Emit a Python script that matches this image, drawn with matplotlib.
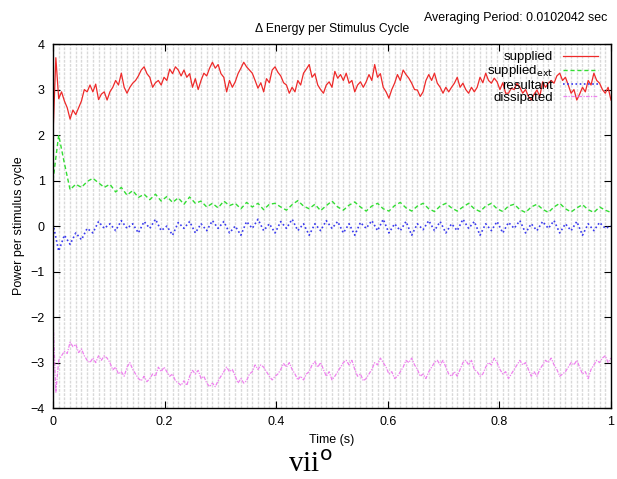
import numpy as np
import matplotlib
matplotlib.use("Agg")
import matplotlib.pyplot as plt

# Averaging period of the stimulus cycle (s)
period = 0.0102042
n_cycles = 99          # samples of supplied_ext / resultant (one per cycle)
n_half = 197           # samples of supplied / dissipated (two per cycle)

supplied = [
    2.0, 3.7, 2.8, 2.95, 2.75, 2.6, 2.35, 2.55, 2.45, 2.6,
    2.75, 3.0, 2.95, 3.1, 2.95, 3.12, 2.78, 2.9, 2.95, 2.77,
    2.95, 3.05, 3.2, 3.1, 3.36, 3.05, 2.92, 3.05, 3.14, 3.2,
    3.3, 3.43, 3.5, 3.35, 3.27, 3.05, 3.15, 3.2, 3.1, 3.27,
    3.2, 3.45, 3.35, 3.5, 3.43, 3.3, 3.43, 3.27, 3.35, 3.05,
    3.24, 3.0, 3.2, 3.36, 3.3, 3.47, 3.6, 3.47, 3.55, 3.35,
    3.27, 2.95, 3.2, 3.05, 3.17, 3.35, 3.47, 3.6, 3.5, 3.43,
    3.36, 3.2, 3.03, 3.15, 2.95, 3.24, 3.15, 3.43, 3.5, 3.38,
    3.3, 3.15, 3.1, 2.92, 3.05, 2.95, 3.2, 3.1, 3.36, 3.45,
    3.55, 3.27, 3.35, 3.1, 3.0, 2.92, 3.1, 3.17, 3.05, 3.4,
    3.25, 3.33, 3.2, 3.36, 3.14, 3.2, 2.95, 3.1, 3.17, 3.05,
    3.17, 3.33, 3.2, 3.55, 3.27, 3.35, 3.05, 2.95, 2.81, 3.0,
    3.14, 3.33, 3.2, 3.43, 3.33, 3.25, 3.14, 3.0, 2.99, 2.85,
    2.95, 3.2, 3.33, 3.2, 3.36, 3.14, 3.05, 2.92, 3.05, 2.95,
    3.05, 3.14, 3.27, 3.05, 3.14, 3.0, 2.92, 3.05, 2.95, 3.05,
    3.27, 3.15, 3.36, 3.2, 3.14, 3.25, 3.17, 3.0, 3.15, 2.92,
    2.92, 3.03, 3.0, 3.14, 3.05, 2.92, 3.0, 2.85, 2.77, 2.9,
    2.99, 2.85, 3.17, 3.05, 3.14, 3.2, 3.14, 3.3, 3.36, 3.2,
    3.27, 3.1, 2.92, 3.0, 2.77, 2.9, 3.05, 2.95, 3.2, 3.1,
    3.36, 3.2, 3.14, 3.0, 2.92, 3.05, 2.77,
]

dissipated = [
    -2.0, -3.65, -2.95, -2.85, -2.75, -2.8, -2.55, -2.65, -2.6, -2.78,
    -2.7, -2.85, -2.95, -3.0, -2.9, -3.0, -2.85, -2.95, -2.85, -2.9,
    -3.0, -3.16, -3.1, -3.25, -3.2, -3.3, -3.1, -3.0, -3.15, -3.25,
    -3.35, -3.4, -3.3, -3.42, -3.35, -3.25, -3.3, -3.1, -3.2, -3.1,
    -3.2, -3.3, -3.25, -3.4, -3.45, -3.5, -3.4, -3.5, -3.3, -3.17,
    -3.25, -3.17, -3.35, -3.3, -3.45, -3.53, -3.45, -3.53, -3.4, -3.3,
    -3.2, -3.1, -3.2, -3.15, -3.3, -3.45, -3.35, -3.45, -3.4, -3.25,
    -3.2, -3.05, -3.15, -3.05, -3.1, -3.2, -3.3, -3.38, -3.3, -3.25,
    -3.15, -3.02, -3.1, -3.0, -3.15, -3.25, -3.38, -3.3, -3.38, -3.25,
    -3.2, -3.05, -2.98, -3.1, -3.0, -3.15, -3.3, -3.2, -3.38, -3.3,
    -3.2, -3.1, -3.0, -2.95, -3.05, -2.95, -3.15, -3.3, -3.25, -3.4,
    -3.35, -3.25, -3.15, -3.0, -3.05, -2.9, -3.0, -3.1, -3.25, -3.2,
    -3.35, -3.3, -3.2, -3.1, -2.95, -3.0, -2.9, -3.05, -3.15, -3.3,
    -3.25, -3.35, -3.2, -3.1, -3.0, -2.95, -3.05, -2.95, -3.1, -3.25,
    -3.3, -3.2, -3.3, -3.15, -3.0, -2.95, -3.05, -2.95, -3.15, -3.2,
    -3.3, -3.25, -3.1, -3.0, -3.05, -2.9, -3.0, -3.15, -3.25, -3.2,
    -3.35, -3.25, -3.15, -3.05, -2.95, -3.05, -3.0, -3.15, -3.3, -3.2,
    -3.3, -3.15, -3.05, -2.95, -3.0, -2.9, -3.05, -3.15, -3.3, -3.25,
    -3.2, -3.1, -3.0, -3.05, -2.95, -3.1, -3.25, -3.2, -3.35, -3.15,
    -3.05, -2.95, -3.0, -2.9, -2.85, -3.0, -2.9,
]

supplied_ext = [
    1.0, 2.0, 1.38, 0.8, 0.92, 0.85, 0.98, 1.05, 0.95, 0.85,
    0.92, 0.75, 0.85, 0.68, 0.78, 0.63, 0.7, 0.58, 0.7, 0.55,
    0.65, 0.52, 0.62, 0.48, 0.64, 0.5, 0.55, 0.42, 0.5, 0.4,
    0.55, 0.45, 0.5, 0.38, 0.52, 0.42, 0.5, 0.36, 0.48, 0.5,
    0.42, 0.35, 0.47, 0.56, 0.44, 0.38, 0.48, 0.34, 0.45, 0.55,
    0.42, 0.35, 0.46, 0.53, 0.42, 0.33, 0.44, 0.5, 0.38, 0.33,
    0.45, 0.52, 0.4, 0.33, 0.44, 0.5, 0.38, 0.32, 0.44, 0.5,
    0.4, 0.33, 0.42, 0.5, 0.38, 0.32, 0.44, 0.5, 0.38, 0.32,
    0.44, 0.48, 0.36, 0.3, 0.42, 0.48, 0.37, 0.3, 0.42, 0.5,
    0.38, 0.31, 0.4, 0.47, 0.36, 0.3, 0.42, 0.35, 0.3,
]

resultant = [
    0.05, -0.55, -0.2, -0.4, -0.15, -0.3, -0.05, -0.15, 0.1, -0.05,
    0.05, -0.1, 0.12, -0.05, 0.05, -0.15, 0.1, -0.05, 0.15, -0.1,
    0.0, -0.2, 0.08, -0.05, 0.1, -0.15, 0.05, -0.1, 0.12, -0.05,
    0.1, -0.15, 0.0, -0.2, 0.1, -0.05, 0.15, -0.1, 0.05, -0.15,
    0.1, -0.05, 0.15, -0.1, 0.05, -0.2, 0.05, -0.1, 0.12, -0.05,
    0.1, -0.15, 0.05, -0.2, 0.08, -0.05, 0.12, -0.1, 0.15, -0.15,
    0.05, -0.1, 0.1, -0.2, 0.05, -0.08, 0.12, -0.1, 0.1, -0.15,
    0.05, -0.1, 0.15, -0.05, 0.1, -0.2, 0.05, -0.1, 0.1, -0.15,
    0.08, -0.05, 0.12, -0.15, 0.05, -0.1, 0.1, -0.05, 0.12, -0.15,
    0.05, -0.1, 0.1, -0.2, 0.05, -0.1, 0.08, -0.05, 0.0,
]

x_ticks = [0, 0.2, 0.4, 0.6, 0.8, 1.0]
x_tick_labels = ["0", "0.2", "0.4", "0.6", "0.8", "1"]
y_ticks = [-4, -3, -2, -1, 0, 1, 2, 3, 4]

t_cycle = np.arange(n_cycles) * period
t_half = np.arange(n_half) * period / 2

plt.rcParams["font.family"] = ["Liberation Sans", "DejaVu Sans"]

fig = plt.figure(figsize=(6.17, 4.79), dpi=100)
ax = fig.add_axes([0.0859, 0.148, 0.9043, 0.760])

# one grid line per averaging period
for k in range(1, int(1.0 / period) + 1):
    ax.axvline(k * period, color="#d9d9d9", lw=1.0, ls=(0, (2, 1)), zorder=0)

ax.plot(t_half, supplied, color="#ee2a2a", lw=0.9, label="supplied")
ax.plot(t_cycle, supplied_ext, color="#33dd33", lw=1.0, ls=(0, (3, 2)),
        label=r"supplied$_{\rm ext}$")
ax.plot(t_cycle, resultant, color="#3a3aee", lw=1.2, ls=(0, (1, 1.5)),
        label="resultant")
ax.plot(t_half, dissipated, color="#ee82ee", lw=0.9, ls=(0, (3, 1, 1, 1)),
        label="dissipated")

ax.set_xlim(0, 1)
ax.set_ylim(-4, 4)
ax.set_xticks(x_ticks)
ax.set_xticklabels(x_tick_labels)
ax.set_yticks(y_ticks)
ax.tick_params(direction="in", length=5, width=0.8, top=True, right=True,
               labelsize=9, pad=6)
for s in ax.spines.values():
    s.set_linewidth(1.0)

ax.set_xlabel("Time (s)", fontsize=9, labelpad=4)
ax.set_ylabel("Power per stimulus cycle", fontsize=9, labelpad=4)
ax.set_title("\u0394 Energy per Stimulus Cycle", fontsize=8.7, pad=9)

fig.text(0.984, 0.962, "Averaging Period: 0.0102042 sec", ha="right",
         va="center", fontsize=8.9)
fig.text(0.503, 0.030, r"vii$^{\rm o}$", ha="center", va="center",
         fontsize=21, family="Liberation Serif")

leg = ax.legend(loc="upper right", bbox_to_anchor=(0.981, 0.988),
                frameon=False, markerfirst=False,
                fontsize=9.5, handlelength=2.6, labelspacing=0.0,
                handletextpad=0.8, borderaxespad=0.0, borderpad=0.2)

fig.savefig("out.png", dpi=100)
